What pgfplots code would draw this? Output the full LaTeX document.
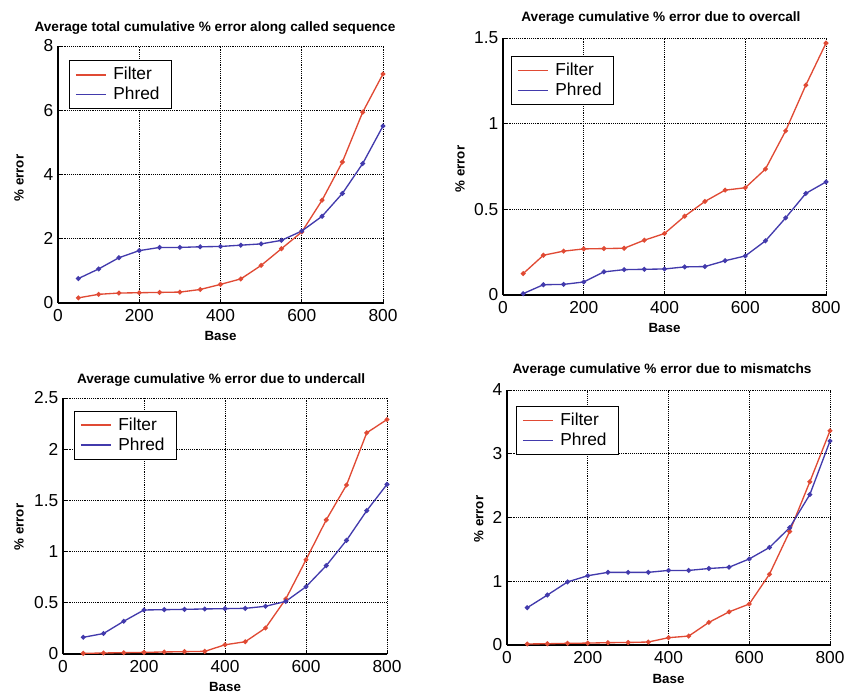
\documentclass[border=0pt]{standalone}
\usepackage{fontspec}
\setmainfont{Liberation Sans}
\usepackage{pgfplots}
\pgfplotsset{compat=1.18}
\definecolor{fred}{RGB}{224,74,52}
\definecolor{pblue}{RGB}{66,58,172}
\pgfplotsset{
  every axis title shift=0pt,
  panel/.style={
    scale only axis,
    xmin=0, xmax=800,
    xtick={0,200,400,600,800},
    axis x line*=bottom, axis y line*=left,
    axis line style={black, line width=0.9pt},
    tick style={black, line width=0.6pt},
    tick align=inside,
    major tick length=3pt,
    grid=major,
    grid style={black, densely dotted, line width=0.5pt},
    /pgf/number format/assume math mode=true,
    ticklabel style={font=\fontsize{13}{14}\selectfont},
    xticklabel style={yshift=-1pt},
    label style={font=\fontsize{10}{11}\selectfont\bfseries},
    title style={font=\fontsize{10.2}{11}\selectfont\bfseries, anchor=center},
    xlabel={Base}, ylabel={\% error},
    legend cell align=left,
    legend style={draw=black, line width=0.9pt, fill=white, anchor=north west,
      font=\fontsize{13}{14}\selectfont, inner xsep=4pt, inner ysep=3pt,
      row sep=0pt, nodes={inner xsep=5pt, inner ysep=2pt}},
    legend image code/.code={\draw[#1, mark=none, line width=1.3pt] (0pt,0pt) -- (22.5pt,0pt);},
    every axis plot/.append style={line width=1pt, mark=*, mark size=1.3pt},
  },
}
\begin{document}
\begin{tikzpicture}
\path[use as bounding box] (0pt,0pt) rectangle (636pt,520.5pt);
% Panel 1
\begin{axis}[panel, at={(43.5pt,293.25pt)}, anchor=south west, width=243.75pt, height=192.75pt,
  ymin=0, ymax=8, ytick={0,2,4,6,8},
  title={Average total cumulative \% error along called sequence},
  title style={at={(0.483,1.07)}},
  xlabel style={at={(0.5,-0.128)}, anchor=center},
  ylabel style={at={(-0.12,0.486)}, anchor=center},
  legend style={at={(0.034,0.945)}}]
\addplot[color=fred, mark options={fill=fred}] coordinates {
(50,0.16)(100,0.27)(150,0.31)(200,0.32)(250,0.33)(300,0.34)(350,0.42)(400,0.58)
(450,0.75)(500,1.17)(550,1.69)(600,2.21)(650,3.2)(700,4.39)(750,5.94)(800,7.13)};
\addplot[color=pblue, mark options={fill=pblue}] coordinates {
(50,0.76)(100,1.06)(150,1.41)(200,1.63)(250,1.73)(300,1.73)(350,1.75)(400,1.76)
(450,1.80)(500,1.84)(550,1.95)(600,2.24)(650,2.70)(700,3.41)(750,4.34)(800,5.51)};
\legend{Filter,Phred}
\end{axis}
% Panel 2
\begin{axis}[panel, at={(377.25pt,299.25pt)}, anchor=south west, width=242.25pt, height=192.75pt,
  ymin=0, ymax=1.5, ytick={0,0.5,1,1.5},
  title={Average cumulative \% error due to overcall},
  title style={at={(0.489,1.076)}},
  xlabel style={at={(0.5,-0.128)}, anchor=center},
  ylabel style={at={(-0.133,0.49)}, anchor=center},
  legend style={at={(0.025,0.93)}}]
\addplot[color=fred, mark options={fill=fred}] coordinates {
(50,0.125)(100,0.232)(150,0.256)(200,0.269)(250,0.271)(300,0.273)(350,0.32)(400,0.359)
(450,0.46)(500,0.546)(550,0.612)(600,0.626)(650,0.735)(700,0.958)(750,1.225)(800,1.47)};
\addplot[color=pblue, mark options={fill=pblue}] coordinates {
(50,0.008)(100,0.06)(150,0.062)(200,0.076)(250,0.135)(300,0.148)(350,0.15)(400,0.152)
(450,0.164)(500,0.166)(550,0.20)(600,0.228)(650,0.316)(700,0.45)(750,0.593)(800,0.66)};
\legend{Filter,Phred}
\end{axis}
% Panel 3
\begin{axis}[panel, at={(47.25pt,30pt)}, anchor=south west, width=243pt, height=192pt,
  ymin=0, ymax=2.5, ytick={0,0.5,1,1.5,2,2.5},
  title={Average cumulative \% error due to undercall},
  title style={at={(0.488,1.072)}},
  xlabel style={at={(0.5,-0.129)}, anchor=center},
  ylabel style={at={(-0.136,0.496)}, anchor=center},
  legend style={at={(0.034,0.95)}}]
\addplot[color=fred, mark options={fill=fred}] coordinates {
(50,0.006)(100,0.01)(150,0.013)(200,0.016)(250,0.02)(300,0.023)(350,0.026)(400,0.09)
(450,0.12)(500,0.254)(550,0.537)(600,0.92)(650,1.31)(700,1.65)(750,2.16)(800,2.29)};
\addplot[color=pblue, mark options={fill=pblue}] coordinates {
(50,0.163)(100,0.2)(150,0.32)(200,0.43)(250,0.433)(300,0.436)(350,0.44)(400,0.443)
(450,0.446)(500,0.466)(550,0.514)(600,0.657)(650,0.863)(700,1.11)(750,1.40)(800,1.657)};
\legend{Filter,Phred}
\end{axis}
% Panel 4
\begin{axis}[panel, at={(380.25pt,36.75pt)}, anchor=south west, width=242.25pt, height=191.25pt,
  ymin=0, ymax=4, ytick={0,1,2,3,4},
  title={Average cumulative \% error due to mismatchs},
  title style={at={(0.48,1.08)}},
  xlabel style={at={(0.5,-0.133)}, anchor=center},
  ylabel style={at={(-0.087,0.494)}, anchor=center},
  legend style={at={(0.028,0.937)}}]
\addplot[color=fred, mark options={fill=fred}] coordinates {
(50,0.016)(100,0.02)(150,0.026)(200,0.03)(250,0.037)(300,0.04)(350,0.047)(400,0.115)
(450,0.14)(500,0.355)(550,0.52)(600,0.643)(650,1.11)(700,1.78)(750,2.56)(800,3.36)};
\addplot[color=pblue, mark options={fill=pblue}] coordinates {
(50,0.585)(100,0.784)(150,0.99)(200,1.087)(250,1.14)(300,1.14)(350,1.14)(400,1.17)
(450,1.17)(500,1.2)(550,1.22)(600,1.35)(650,1.53)(700,1.84)(750,2.36)(800,3.2)};
\legend{Filter,Phred}
\end{axis}
\end{tikzpicture}
\end{document}
